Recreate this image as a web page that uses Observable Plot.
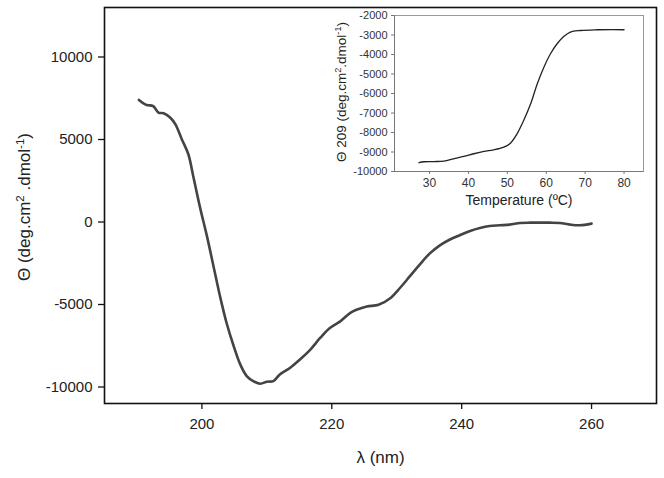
<!DOCTYPE html>
<html>
<head>
<meta charset="utf-8">
<script src="https://cdn.jsdelivr.net/npm/d3@7"></script>
<script src="https://cdn.jsdelivr.net/npm/@observablehq/plot@0.6"></script>
<style>
  html, body { margin: 0; padding: 0; background: #fff; }
  #wrap { position: relative; width: 664px; height: 478px; font-family: "Liberation Sans", Arial, sans-serif; }
  #wrap svg { position: absolute; left: 0; top: 0; }
</style>
</head>
<body>
<div id="wrap"></div>
<script>
// Main CD spectrum: wavelength (nm) vs ellipticity
const wavelength = [190.3, 191.5, 192.5, 193.3, 194.1, 195.1, 195.9, 196.9, 197.9, 198.7, 199.7, 200.8, 201.8, 202.8, 203.8, 204.9, 205.9, 206.9, 207.9, 209.0, 210.0, 211.0, 212.0, 213.6, 215.1, 216.7, 218.2, 219.7, 221.3, 222.8, 223.8, 225.4, 227.2, 229.0, 230.5, 232.0, 233.6, 235.1, 236.7, 238.2, 239.7, 241.3, 242.8, 244.3, 245.9, 247.4, 249.0, 250.5, 252.1, 253.6, 255.1, 256.7, 258.2, 260.0];
const theta = [7400, 7090, 7030, 6630, 6590, 6330, 5930, 5020, 4120, 2710, 900, -900, -2710, -4520, -6120, -7530, -8630, -9340, -9640, -9800, -9680, -9640, -9240, -8830, -8330, -7730, -7030, -6420, -6020, -5520, -5320, -5120, -5020, -4620, -4000, -3300, -2550, -1900, -1400, -1060, -800, -540, -360, -240, -200, -160, -60, -40, -40, -40, -60, -160, -200, -100];

// Inset: thermal melt at 209 nm
const temperature = [27.3, 28.5, 31.1, 33.7, 36.2, 38.8, 41.4, 44.0, 46.5, 49.1, 50.8, 52.5, 54.2, 56.0, 57.7, 59.4, 61.1, 62.8, 64.5, 66.2, 68.8, 73.1, 77.4, 80.0];
const theta209 = [-9550, -9500, -9490, -9470, -9350, -9230, -9090, -8970, -8890, -8750, -8550, -8070, -7380, -6530, -5500, -4650, -3960, -3450, -3080, -2850, -2770, -2730, -2720, -2730];

const mainXTicks = [200, 220, 240, 260];
const mainYTicks = [-10000, -5000, 0, 5000, 10000];
const insetXTicks = [30, 40, 50, 60, 70, 80];
const insetYTicks = [-10000, -9000, -8000, -7000, -6000, -5000, -4000, -3000, -2000];

const mainData = wavelength.map((w, i) => ({w, t: theta[i]}));
const insetData = temperature.map((T, i) => ({T, v: theta209[i]}));
const fmt = d => String(d);
const font = '"Liberation Sans", Arial, sans-serif';

const main = Plot.plot({
  width: 664, height: 478,
  marginLeft: 104, marginRight: 8, marginTop: 7, marginBottom: 75,
  style: {fontFamily: font, background: "transparent", overflow: "visible"},
  x: {domain: [185, 270]},
  y: {domain: [-11000, 13000]},
  marks: [
    Plot.line(mainData, {x: "w", y: "t", stroke: "#444", strokeWidth: 2.6, curve: "catmull-rom"}),
    Plot.frame({stroke: "#111", strokeWidth: 1.6}),
    Plot.axisX({ticks: mainXTicks, tickFormat: fmt, tickSize: 6, tickPadding: 9, fontSize: 15, color: "#222", stroke: "#111", strokeWidth: 1.3, label: null}),
    Plot.axisY({ticks: mainYTicks, tickFormat: fmt, tickSize: 6, tickPadding: 6, fontSize: 15, color: "#222", stroke: "#111", strokeWidth: 1.3, label: null}),
    Plot.text(["λ (nm)"], {frameAnchor: "bottom", dy: 59, fontSize: 17, fill: "#222"})
  ]
});

const inset = Plot.plot({
  width: 664, height: 478,
  marginLeft: 394, marginRight: 21, marginTop: 15, marginBottom: 307,
  style: {fontFamily: font, background: "transparent", overflow: "visible"},
  x: {domain: [21, 85]},
  y: {domain: [-10000, -2000]},
  marks: [
    Plot.frame({stroke: "#999", strokeWidth: 1}),
    Plot.axisX({ticks: insetXTicks, tickFormat: fmt, tickSize: 3, tickPadding: 4, fontSize: 12, color: "#333", stroke: "#777", label: null}),
    Plot.axisY({ticks: insetYTicks, tickFormat: fmt, tickSize: 3, tickPadding: 4, fontSize: 11, color: "#333", stroke: "#777", label: null}),
    Plot.ruleX([21], {stroke: "#777", strokeWidth: 1}),
    Plot.ruleY([-10000], {stroke: "#777", strokeWidth: 1}),
    Plot.line(insetData, {x: "T", y: "v", stroke: "#222", strokeWidth: 1.3, curve: "catmull-rom"}),
    Plot.text(["Temperature (ºC)"], {frameAnchor: "bottom", dy: 33, fontSize: 14, fill: "#222"})
  ]
});

// Rotated axis titles with real superscripts
function yTitle(svg, x, y, size, parts) {
  const t = d3.select(svg).append("text")
    .attr("transform", `translate(${x},${y}) rotate(-90)`)
    .attr("text-anchor", "middle")
    .attr("font-family", font)
    .attr("font-size", size)
    .attr("fill", "#222");
  for (const [s, sup] of parts) {
    const ts = t.append("tspan").text(s);
    if (sup) ts.attr("font-size", size * 0.68).attr("baseline-shift", "super");
  }
}
yTitle(main, 30, 207, 17, [["Θ (deg.cm", false], ["2", true], [" .dmol", false], ["-1", true], [")", false]]);
yTitle(inset, 346, 92, 13.5, [["Θ 209 (deg.cm", false], ["2", true], [".dmol", false], ["-1", true], [")", false]]);

const wrap = document.getElementById("wrap");
wrap.appendChild(main);
wrap.appendChild(inset);
</script>
</body>
</html>
